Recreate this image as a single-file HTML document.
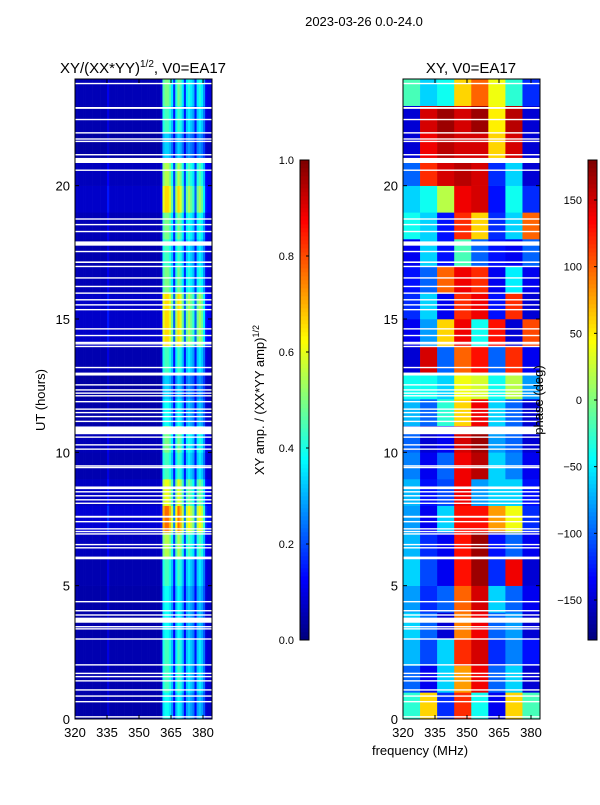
<!DOCTYPE html>
<html><head><meta charset="utf-8"><style>
body{margin:0;background:#fff;width:600px;height:800px;overflow:hidden;font-family:"Liberation Sans",sans-serif}
svg text{font-family:"Liberation Sans",sans-serif}
</style></head><body>
<svg id="s" width="600" height="800" xmlns="http://www.w3.org/2000/svg">
<text x="364" y="26" font-size="13" text-anchor="middle">2023-03-26 0.0-24.0</text>
<text x="143" y="73" font-size="15" text-anchor="middle">XY/(XX*YY)<tspan font-size="10" dy="-6">1/2</tspan><tspan dy="6">, V0=EA17</tspan></text>
<text x="471" y="73" font-size="15" text-anchor="middle">XY, V0=EA17</text>
<text x="45" y="400" font-size="13" text-anchor="middle" transform="rotate(-90 45 400)">UT (hours)</text>
<text x="420" y="755" font-size="13" text-anchor="middle">frequency (MHz)</text>
<text x="264" y="400" font-size="13" text-anchor="middle" transform="rotate(-90 264 400)">XY amp. / (XX*YY amp)<tspan font-size="9" dy="-5">1/2</tspan></text>
<g id="g1"></g>
<g id="g2"></g>
<g id="ax"></g>
<text x="543" y="400" font-size="13" text-anchor="middle" transform="rotate(-90 543 400)">phase (deg)</text>
</svg>
<script>
const hours=[0,5,10,15,20];
const freqTicks=[320,335,350,365,380];
// amplitude: column profile per 1 MHz (320..383)
const ampProfile=[0.06,0.06,0.06,0.06,0.06,0.06,0.06,0.06,0.06,0.06,0.06,0.06,0.06,0.06,0.06,0.12,0.06,0.06,0.06,0.06,0.06,0.06,0.06,0.06,0.06,0.06,0.06,0.06,0.06,0.06,0.06,0.06,0.06,0.06,0.06,0.06,0.06,0.06,0.06,0.06,0.1,0.5,0.55,0.55,0.5,0.4,0.18,0.45,0.55,0.5,0.4,0.18,0.4,0.45,0.4,0.35,0.18,0.4,0.45,0.4,0.3,0.12,0.1,0.1];
const ampRowGain=[0.7,0.8,0.8,0.7,0.7,0.8,1.0,1.4,1.1,0.8,0.9,0.7,0.6,0.8,1.2,1.2,0.9,0.8,0.9,1.2,1.0,0.6,0.8,0.9];
// phase grid: 24 hourly rows x 8 bins of 8 MHz
const phaseGrid=[
[-30,60,-120,120,-40,-140,60,-20],
[-100,-140,-60,80,140,-100,-60,-150],
[-70,-110,-60,120,150,-120,-90,-130],
[-60,-100,-150,90,140,-100,-80,-150],
[-80,-120,-100,100,150,-60,-100,-140],
[-60,-110,-140,130,170,-120,140,-150],
[-70,-120,-140,130,170,-130,-100,-140],
[-80,-140,-60,130,130,80,40,-120],
[-70,-130,-110,140,-80,-60,-60,-130],
[-90,-140,-100,140,160,-60,-90,-140],
[-100,-150,-140,150,170,-80,-100,-150],
[-70,-100,-30,60,140,-60,-100,-150],
[-40,-40,-60,40,30,-40,20,-80],
[-150,150,-100,100,130,-100,120,-140],
[-140,-80,60,140,-40,130,-150,110],
[-120,-60,-140,120,140,-130,120,-150],
[-130,-100,100,140,120,-140,-50,-140],
[-140,-60,-130,-20,-100,-130,-140,-100],
[-40,-60,-130,120,60,-120,-60,100],
[-60,-40,20,140,150,-130,-40,-120],
[-100,120,150,160,150,-120,-60,-150],
[-150,140,160,150,150,60,150,-150],
[-150,150,170,150,170,50,160,-150],
[-20,-60,-40,60,100,40,-30,-120]];
const flags=[0.08,0.65,0.86,1.09,1.43,1.59,1.71,2.03,3.0,3.38,3.46,3.9,4.06,4.4,6.42,6.54,6.94,7.03,7.13,7.4,8.09,8.22,8.37,8.52,9.43,9.49,10.12,10.28,10.57,11.16,11.34,11.49,11.62,11.9,12.12,12.22,12.34,12.53,13.18,13.97,14.07,14.12,14.38,14.63,15.35,15.53,15.72,15.97,16.22,16.54,16.97,17.53,18.28,18.54,18.75,20.58,21.16,21.66,21.75,21.98,22.48,23.83];
const thickFlags=[[3.61,3.8],[5.99,6.09],[7.55,7.62],[8.62,8.72],[10.68,10.97],[12.88,12.99],[17.1,17.16],[17.75,17.91],[20.85,21.04],[22.88,22.95]];
const ampTicks=[0,0.2,0.4,0.6,0.8,1.0];
const phaseTicks=[-150,-100,-50,0,50,100,150];

const NS="http://www.w3.org/2000/svg";
function jet(x){x=Math.max(0,Math.min(1,x));const c=v=>Math.round(255*Math.max(0,Math.min(1,v)));
return `rgb(${c(1.5-Math.abs(4*x-3))},${c(1.5-Math.abs(4*x-2))},${c(1.5-Math.abs(4*x-1))})`;}
function el(t,a,p){const e=document.createElementNS(NS,t);for(const k in a)e.setAttribute(k,a[k]);p.appendChild(e);return e;}
const PW=137,Y0=719,PH=640;
const yS=h=>Y0-h*PH/24;
const xS=(x0,f)=>x0+(f-320)*128/60;
const panels=[75,403];
const g1=document.getElementById('g1'),g2=document.getElementById('g2'),ax=document.getElementById('ax');
for(let i=0;i<ampRowGain.length;i++)for(let j=0;j<ampProfile.length;j++){
 const v=Math.min(1,ampProfile[j]*ampRowGain[i]);
 const r=el('rect',{x:xS(75,320+j),y:yS(i+1),width:128/60+0.3,height:PH/24+0.3,fill:jet(v)},g1);
 
 
}
for(let i=0;i<phaseGrid.length;i++)for(let j=0;j<8;j++){
 const v=phaseGrid[i][j];
 const r=el('rect',{x:xS(403,320+8*j),y:yS(i+1),width:8*128/60+0.3,height:PH/24+0.3,fill:jet((v+180)/360)},g2);
 
 
}
panels.forEach((x0,pi)=>{
 const g=pi?g2:g1;
 flags.forEach(h=>{const r=el('rect',{x:x0,y:yS(h)-0.7,width:PW,height:1.4,fill:'#fff'},g);
  });
 thickFlags.forEach(f=>{const r=el('rect',{x:x0,y:yS(f[1]),width:PW,height:yS(f[0])-yS(f[1]),fill:'#fff'},g);
  });
 const fr=el('rect',{x:x0,y:79,width:PW,height:PH,fill:'none',stroke:'#000','stroke-width':1},ax);
 
 hours.forEach(h=>{const y=yS(h);
  el('line',{x1:x0,x2:x0+4,y1:y,y2:y,stroke:'#000'},ax);el('line',{x1:x0+PW-4,x2:x0+PW,y1:y,y2:y,stroke:'#000'},ax);
  const t=el('text',{x:x0-5,y:y+5,'font-size':13,'text-anchor':'end'},ax);t.textContent=h;
  });
 freqTicks.forEach(f=>{const x=xS(x0,f);
  el('line',{x1:x,x2:x,y1:Y0,y2:Y0-4,stroke:'#000'},ax);el('line',{x1:x,x2:x,y1:79,y2:83,stroke:'#000'},ax);
  const t=el('text',{x:x,y:737,'font-size':13,'text-anchor':'middle'},ax);t.textContent=f;
  });
});
function cbar(x,ticks,lo,hi,name){
 for(let k=0;k<120;k++){const r=el('rect',{x:x,y:640-(k+1)*4,width:9,height:4.3,fill:jet(k/119)},ax);
  }
 const f=el('rect',{x:x,y:160,width:9,height:480,fill:'none',stroke:'#000'},ax);
 
 ticks.forEach(v=>{const y=640-(v-lo)/(hi-lo)*480;
  el('line',{x1:x+6,x2:x+9,y1:y,y2:y,stroke:'#000'},ax);
  const t=el('text',{x:x-6,y:y+4,'font-size':11,'text-anchor':'end'},ax);
  t.textContent=lo<0?(v<0?'\u2212'+(-v):v):v.toFixed(1);
  });
}
cbar(300,ampTicks,0,1,'amp-colorbar');
cbar(588,phaseTicks,-180,180,'phase-colorbar');
</script>
</body></html>
